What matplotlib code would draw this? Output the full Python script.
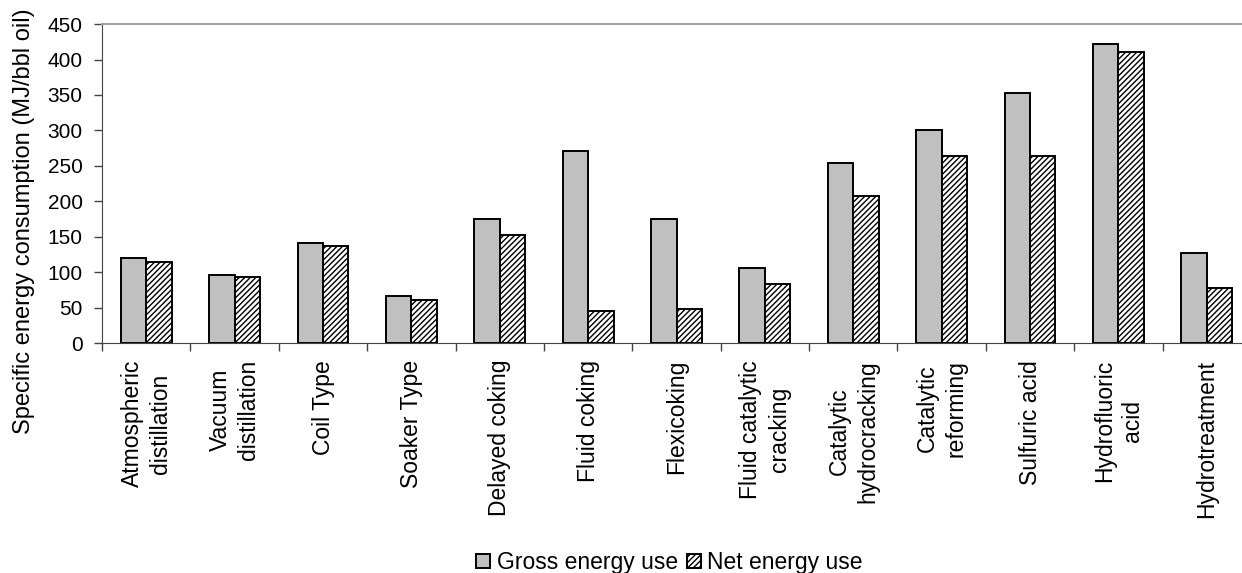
import numpy as np
import matplotlib.pyplot as plt

plt.rcParams['font.family'] = ['Liberation Sans', 'DejaVu Sans']
plt.rcParams['hatch.linewidth'] = 1.0

processes = ["Atmospheric\ndistillation", "Vacuum\ndistillation", "Coil Type",
             "Soaker Type", "Delayed coking", "Fluid coking", "Flexicoking",
             "Fluid catalytic\ncracking", "Catalytic\nhydrocracking",
             "Catalytic\nreforming", "Sulfuric acid", "Hydrofluoric\nacid",
             "Hydrotreatment"]
gross = [120, 96, 142, 66, 175, 271, 175, 106, 254, 300, 353, 422, 127]
net = [114, 94, 137, 61, 152, 45, 48, 83, 207, 264, 264, 411, 78]

fig = plt.figure(figsize=(12.42, 5.73), dpi=100)
ax = fig.add_axes([0.0822, 0.401, 0.925, 0.557])

x = np.arange(len(processes))
w = 0.288
ax.bar(x - w / 2, gross, w, color='#c0c0c0', edgecolor='black', linewidth=1.4,
       label='Gross energy use')
ax.bar(x + w / 2, net, w, color='white', edgecolor='black', linewidth=1.4,
       hatch='//////', label='Net energy use')

ax.set_xlim(-0.5, len(processes) - 0.5)
ax.set_ylim(0, 450)
ax.set_yticks(np.arange(0, 451, 50))
ax.set_xticks(x)
ax.set_xticklabels(processes, rotation=90, fontsize=16.5, ha='center', va='top',
                   multialignment='center', linespacing=1.3)
ax.tick_params(axis='x', length=0, pad=12)
ax.set_xticks(np.arange(-0.5, len(processes), 1), minor=True)
ax.tick_params(axis='x', which='minor', length=6, width=1, color='#444444')
ax.tick_params(axis='y', labelsize=15, length=6, width=1, color='#444444', pad=8)
fig.text(0.019, 0.614, 'Specific energy consumption (MJ/bbl oil)', fontsize=17,
         rotation=90, ha='center', va='center')

for s in ['left', 'bottom']:
    ax.spines[s].set_color('#444444')
ax.spines['top'].set_color('#a0a0a0')
ax.spines['top'].set_linewidth(1.5)
ax.spines['right'].set_visible(False)

fig.legend(loc='center', bbox_to_anchor=(0.539, 0.018), ncol=2, frameon=False,
           fontsize=16.5, handlelength=0.6, handleheight=0.6, handletextpad=0.3,
           columnspacing=0.4, borderpad=0)

fig.savefig('out.png', dpi=100)
